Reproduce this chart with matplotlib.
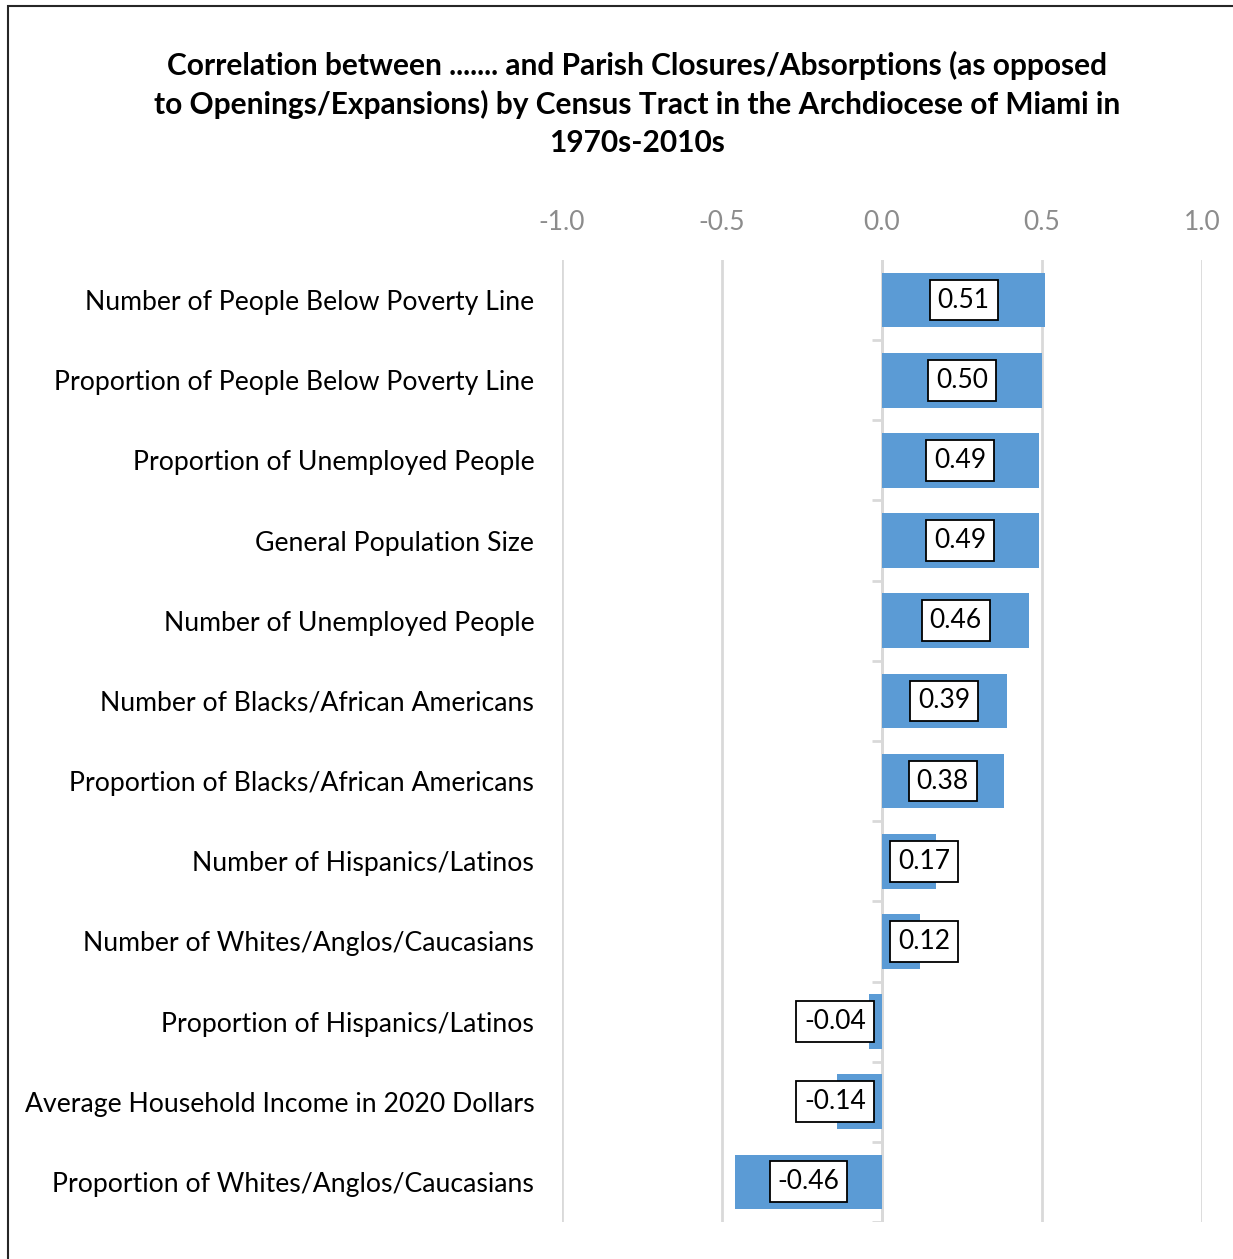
import matplotlib.pyplot as plt
from matplotlib.patches import Rectangle

categories = [
    "Number of People Below Poverty Line",
    "Proportion of People Below Poverty Line",
    "Proportion of Unemployed People",
    "General Population Size",
    "Number of Unemployed People",
    "Number of Blacks/African Americans",
    "Proportion of Blacks/African Americans",
    "Number of Hispanics/Latinos",
    "Number of Whites/Anglos/Caucasians",
    "Proportion of Hispanics/Latinos",
    "Average Household Income in 2020 Dollars",
    "Proportion of Whites/Anglos/Caucasians",
]
values = [0.51, 0.50, 0.49, 0.49, 0.46, 0.39, 0.38, 0.17, 0.12, -0.04, -0.14, -0.46]
xticks = [-1.0, -0.5, 0.0, 0.5, 1.0]

title = ("Correlation between ....... and Parish Closures/Absorptions (as opposed\n"
         "to Openings/Expansions) by Census Tract in the Archdiocese of Miami in\n"
         "1970s-2010s")

plt.rcParams['font.family'] = ['Lato', 'DejaVu Sans']

fig = plt.figure(figsize=(12.33, 12.59), dpi=100)
ax = fig.add_axes([562 / 1233, 1 - 1222 / 1259, 640 / 1233, 962 / 1259])

# outer chart frame (runs off the right/bottom edge like the source)
fig.patches.append(Rectangle((8 / 1233, -0.05), 1.2, 1 - 6 / 1259 + 0.05,
                             transform=fig.transFigure, fill=False,
                             edgecolor='#262626', linewidth=1.5))

pos = list(range(len(categories)))
ax.barh(pos, values, height=0.68, color='#5B9BD5', zorder=3)

ax.set_xlim(-1.0, 1.0)
ax.set_ylim(len(categories) - 0.5, -0.5)
ax.set_xticks(xticks)
ax.set_xticklabels([f"{t:.1f}" for t in xticks])
ax.xaxis.tick_top()
ax.tick_params(axis='x', length=0, pad=18, labelsize=19, labelcolor='#8C8C8C')
ax.set_yticks(pos)
ax.set_yticklabels(categories)
ax.tick_params(axis='y', length=0, pad=20, labelsize=19.2, labelcolor='#000000')
ax.grid(axis='x', color='#D9D9D9', linewidth=2, zorder=0)
for s in ax.spines.values():
    s.set_visible(False)

# category axis at zero with boundary ticks
ax.axvline(0, color='#D9D9D9', linewidth=2, zorder=2)
ax.hlines([p + 0.5 for p in pos], -0.03, 0, color='#D9D9D9', linewidth=2, zorder=2)

# data labels
half_box = 0.11
for p, v in zip(pos, values):
    txt = f"{v:.2f}"
    box = dict(boxstyle='square,pad=0.3', facecolor='white', edgecolor='black', linewidth=1.3)
    if abs(v) / 2 > half_box + 0.01:
        ax.text(v / 2, p, txt, ha='center', va='center', fontsize=19, bbox=box, zorder=4)
    elif v >= 0:
        ax.text(0.05, p, txt, ha='left', va='center', fontsize=19, bbox=box, zorder=4)
    else:
        ax.text(-0.05, p, txt, ha='right', va='center', fontsize=19, bbox=box, zorder=4)

fig.text(637 / 1233, 1 - 104 / 1259, title, ha='center', va='center',
         fontsize=21.5, fontweight='bold', linespacing=1.41)

fig.savefig('out.png', dpi=100)
